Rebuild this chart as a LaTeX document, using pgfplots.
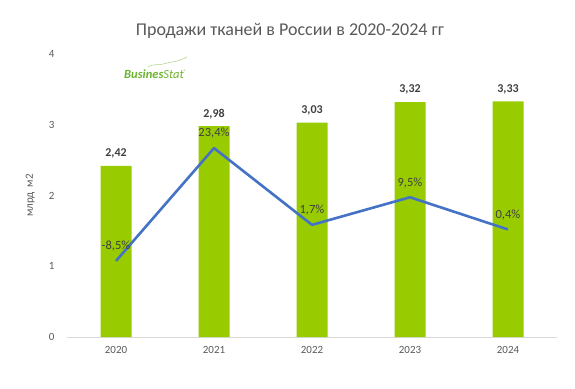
\documentclass[border=0pt]{standalone}
\usepackage{fontspec}
\setmainfont{Carlito}
\usepackage{pgfplots}
\pgfplotsset{compat=1.18}
\definecolor{bargreen}{HTML}{99CC00}
\definecolor{lineblue}{HTML}{4472C4}
\definecolor{ticktxt}{HTML}{595959}
\definecolor{lbltxt}{HTML}{404040}
\definecolor{axline}{HTML}{D9D9D9}
\definecolor{logogreen}{HTML}{6CB42C}
\begin{document}
\begin{tikzpicture}[x=1pt,y=1pt]
\path[use as bounding box] (0,0) rectangle (575,388);
\node[font=\fontsize{18}{20}\selectfont, text=ticktxt] at (290,357) {Продажи тканей в России в 2020-2024 гг};
% logo
\node[font=\fontsize{12.5}{14}\selectfont\bfseries\itshape, text=logogreen, inner sep=0pt, anchor=base west] at (124,309) {Busines\mdseries Stat};
\node[font=\fontsize{5}{6}\selectfont, text=logogreen, inner sep=0pt] at (185,316) {®};
\draw[logogreen!60, line width=0.5pt] (148,321) .. controls (154,325) and (158,322) .. (163,324) .. controls (170,326) and (178,326) .. (187,331);
\begin{axis}[
  at={(67pt,51pt)}, anchor=south west,
  scale only axis, width=490pt, height=283pt,
  xmin=-0.5, xmax=4.5, ymin=0, ymax=4,
  axis x line*=bottom, axis y line*=left,
  y axis line style={draw=none},
  x axis line style={draw=axline, line width=1pt, -},
  major tick length=0pt,
  xtick={0,1,2,3,4},
  xticklabels={2020,2021,2022,2023,2024},
  ytick={0,1,2,3,4},
  tick label style={font=\fontsize{11}{12}\selectfont, text=ticktxt},
  /pgf/number format/assume math mode=true,
  yticklabel style={xshift=-9pt},
  xticklabel style={yshift=-6pt},
  ylabel={млрд\ \ м2},
  ylabel style={font=\fontsize{11}{12}\selectfont, text=ticktxt, at={(axis description cs:-0.075,0.5)}, anchor=center},
  clip=false,
]
\addplot[ybar, bar width=31pt, fill=bargreen, draw=none,
  nodes near coords, point meta=explicit symbolic,
  nodes near coords style={font=\fontsize{12}{13}\selectfont\bfseries, text=lbltxt, anchor=south, yshift=4pt}]
  coordinates {(0,2.42)[2,42] (1,2.98)[2,98] (2,3.03)[3,03] (3,3.32)[3,32] (4,3.33)[3,33]};
\end{axis}
\begin{axis}[
  at={(67pt,51pt)}, anchor=south west,
  scale only axis, width=490pt, height=283pt,
  xmin=-0.5, xmax=4.5, ymin=-30, ymax=50,
  hide axis, clip=false,
]
\addplot[lineblue, line width=2.6pt, line join=round, mark=none,
  nodes near coords, point meta=explicit symbolic,
  nodes near coords style={font=\fontsize{12.5}{13}\selectfont, text=lbltxt, anchor=south, yshift=5pt}]
  coordinates {(0,-8.5)[-8,5\%] (1,23.4)[23,4\%] (2,1.7)[1,7\%] (3,9.5)[9,5\%] (4,0.4)[0,4\%]};
\end{axis}
\end{tikzpicture}
\end{document}
